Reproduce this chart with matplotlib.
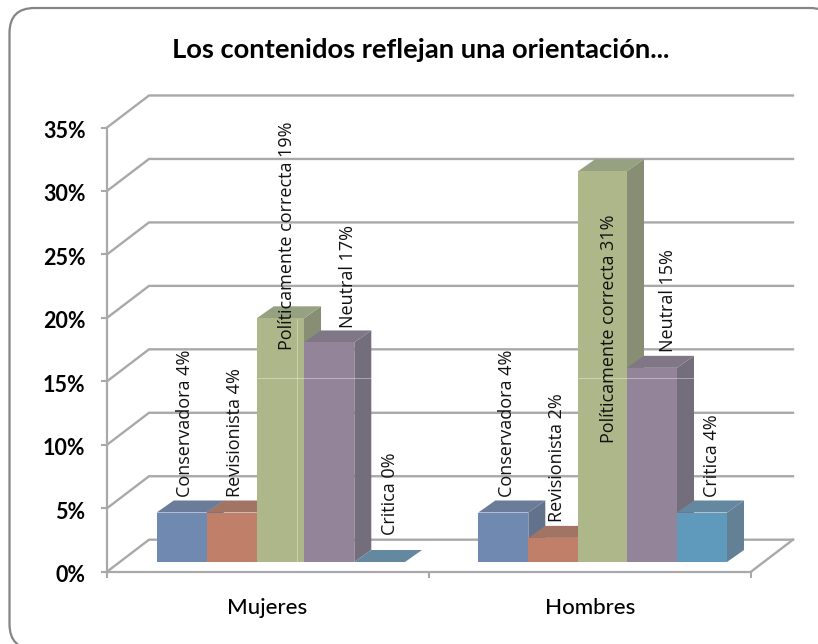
import matplotlib
matplotlib.use("Agg")
import matplotlib.pyplot as plt
from matplotlib.patches import FancyBboxPatch, Polygon
from matplotlib.transforms import ScaledTranslation

groups = ["Mujeres", "Hombres"]
names = ["Conservadora", "Revisionista", "Políticamente correcta", "Neutral", "Critica"]
mujeres = [3.9, 3.9, 19.2, 17.3, 0.0]
hombres = [3.9, 1.9, 30.8, 15.3, 3.9]
mujeres_txt = [4, 4, 19, 17, 0]
hombres_txt = [4, 2, 31, 15, 4]
yticks = [0, 5, 10, 15, 20, 25, 30, 35]

front = ["#7089B0", "#C07F68", "#AEB78A", "#948499", "#5F9ABD"]
top = ["#6A7C99", "#A27464", "#96A181", "#7F7686", "#64889F"]
side = ["#62728C", "#96705F", "#878E74", "#746D7C", "#638094"]
grid = "#A9A9AC"

W, H = 818, 644
X0, X1 = 107, 751
Y0, Y35 = 571.7, 127.5
PER = (Y0 - Y35) / 35  # pixels for one percent


def py(y):
    """pixel row to value on the y axis"""
    return (Y0 - y) / PER


fig = plt.figure(figsize=(W / 100, H / 100), dpi=100)
fig.patch.set_facecolor("white")

# rounded frame, the picture cuts it off on the right and at the bottom
bg = fig.add_axes([0, 0, 1, 1])
bg.set_xlim(0, W)
bg.set_ylim(H, 0)
bg.axis("off")
bg.add_patch(FancyBboxPatch((34.5, 33), 775.5, 591, boxstyle="round,pad=25", fc="white", ec="#858585", lw=1.6))

ax = fig.add_axes([X0 / W, 1 - Y0 / H, (X1 - X0) / W, (Y0 - Y35) / H])
ax.patch.set_alpha(0)
ax.set_xlim(X0, X1)
ax.set_ylim(0, 35)
for s in ["top", "right"]:
    ax.spines[s].set_visible(False)
for s in ["left", "bottom"]:
    ax.spines[s].set_color(grid)
    ax.spines[s].set_linewidth(1.6)
ax.set_yticks(yticks)
ax.set_yticklabels([str(t) + "%" for t in yticks], family="Lato", fontweight="bold", fontsize=15.5)
ax.set_xticks([X0, (X0 + X1) / 2, X1])
ax.set_xticklabels([])
ax.tick_params(color=grid, width=1.5, length=4.5)
ax.tick_params(axis="y", labelcolor="black", pad=11)
for lab in ax.get_yticklabels():
    lab.set_transform(lab.get_transform() + ScaledTranslation(0, -2 / 100, fig.dpi_scale_trans))

# back wall and floor
dx, dy = 42, 32 / PER
for t in yticks:
    ax.plot([X0, X0 + dx, X1 + dx], [t, t + dy, t + dy], color=grid, lw=1.7, clip_on=False, zorder=1,
            solid_joinstyle="miter")
ax.plot([X1, X1 + dx], [0, dy], color=grid, lw=1.7, clip_on=False, zorder=1)

# bars
base = py(562)
ddx, ddy = 17, 12 / PER
edges = [[156.7, 206.7, 256.7, 304, 354.3, 405], [478.3, 528.3, 578.3, 627, 677, 727]]
for vals, xs in zip([mujeres, hombres], edges):
    for i, v in enumerate(vals):
        a, b = xs[i], xs[i + 1]
        h = base + v
        if v > 0:
            ax.add_patch(Polygon([(b, base), (b + ddx, base + ddy), (b + ddx, h + ddy), (b, h)], fc=side[i],
                                 ec="none", zorder=2 + i, clip_on=False))
        ax.add_patch(Polygon([(a, h), (a + ddx, h + ddy), (b + ddx, h + ddy), (b, h)], fc=top[i],
                             ec="none", zorder=2 + i, clip_on=False))
        if v > 0:
            ax.add_patch(Polygon([(a, base), (b, base), (b, h), (a, h)], fc=front[i], ec="none",
                                 zorder=2 + i, clip_on=False))

# faint seams that run over the tall bars
for a, b in [(256.7, 371), (578.3, 694)]:
    ax.plot([a, b], [py(378), py(378)], color="white", lw=0.6, alpha=0.45, zorder=9)
ax.plot([297, 297], [py(562), py(319)], color="white", lw=0.6, alpha=0.4, zorder=9)

# data labels, placed by hand in the original chart
lab_x = [[185, 235, 287, 348, 390], [507, 557, 609, 668, 712]]
lab_y = [[497, 497, 350, 328, 535], [497, 522, 443, 352, 497]]
for txt, lx, ly in zip([mujeres_txt, hombres_txt], lab_x, lab_y):
    for i, n in enumerate(names):
        ax.text(lx[i], py(ly[i]), n + " " + str(txt[i]) + "%", rotation=90, ha="center", va="bottom",
                family="Open Sans", fontsize=13, color="#111111", zorder=20, clip_on=False)

for g, x in zip(groups, [267.5, 590]):
    ax.text(x, py(608), g, ha="center", va="center", family="Lato", fontweight="medium", fontsize=16,
            color="black", clip_on=False)

fig.text(420.5 / W, 1 - 50 / H, "Los contenidos reflejan una orientación...", ha="center", va="center",
         family="Lato", fontweight="bold", fontsize=19.7, color="black")

fig.savefig("out.png", dpi=100)
plt.close()
